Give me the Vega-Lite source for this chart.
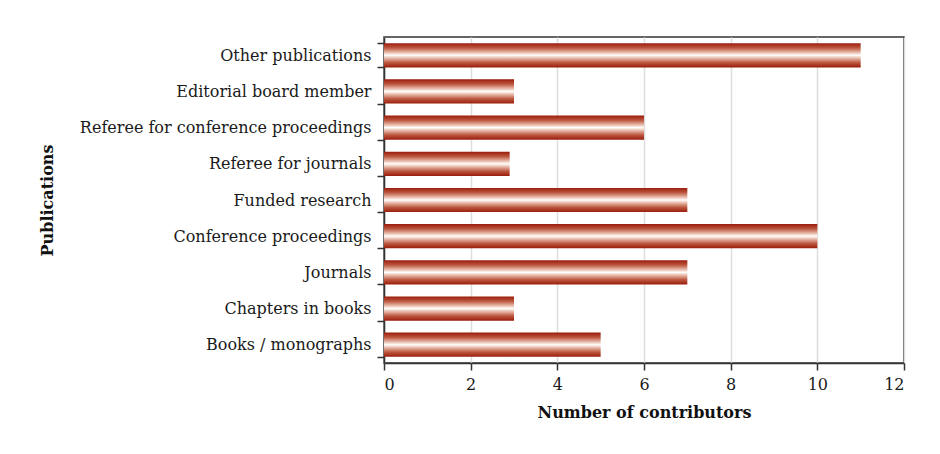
{
  "$schema": "https://vega.github.io/schema/vega-lite/v6.json",
  "autosize": "none",
  "width": 520,
  "height": 326,
  "padding": {"left": 384, "top": 37, "right": 36, "bottom": 91},
  "background": "white",
  "data": {
    "values": [
      {"category": "Other publications", "value": 11},
      {"category": "Editorial board member", "value": 3},
      {"category": "Referee for conference proceedings", "value": 6},
      {"category": "Referee for journals", "value": 2.9},
      {"category": "Funded research", "value": 7},
      {"category": "Conference proceedings", "value": 10},
      {"category": "Journals", "value": 7},
      {"category": "Chapters in books", "value": 3},
      {"category": "Books / monographs", "value": 5}
    ]
  },
  "mark": {
    "type": "bar",
    "color": {
      "gradient": "linear",
      "x1": 0, "y1": 0, "x2": 0, "y2": 1,
      "stops": [
        {"offset": 0, "color": "#9a1c0b"},
        {"offset": 0.2, "color": "#bd5840"},
        {"offset": 0.42, "color": "#f0cfc2"},
        {"offset": 0.5, "color": "#ffffff"},
        {"offset": 0.58, "color": "#f0cfc2"},
        {"offset": 0.8, "color": "#bd5840"},
        {"offset": 1, "color": "#9a1c0b"}
      ]
    }
  },
  "encoding": {
    "y": {
      "field": "category",
      "type": "nominal",
      "sort": null,
      "scale": {"paddingInner": 0.33, "paddingOuter": 0.17},
      "axis": {
        "title": "Publications",
        "tickBand": "extent",
        "grid": false,
        "tickSize": 7,
        "labelPadding": 6,
        "labelLimit": 0,
        "titleX": -329,
        "titleAnchor": "middle"
      }
    },
    "x": {
      "field": "value",
      "type": "quantitative",
      "scale": {"domain": [0, 12], "nice": false},
      "axis": {
        "title": "Number of contributors",
        "values": [0, 2, 4, 6, 8, 10, 12],
        "tickSize": 7,
        "labelPadding": 6,
        "titlePadding": 12,
        "grid": true
      }
    }
  },
  "config": {
    "view": {"stroke": "#333333", "strokeWidth": 1.5},
    "font": "DejaVu Serif",
    "axis": {
      "labelFont": "DejaVu Serif",
      "titleFont": "DejaVu Serif",
      "labelFontSize": 16,
      "titleFontSize": 16,
      "titleFontWeight": "bold",
      "labelColor": "#1a1a1a",
      "titleColor": "#111111",
      "domainColor": "#333333",
      "domainWidth": 1.5,
      "tickColor": "#333333",
      "tickWidth": 1.5,
      "gridColor": "#dddddd",
      "gridWidth": 1.5
    }
  }
}
